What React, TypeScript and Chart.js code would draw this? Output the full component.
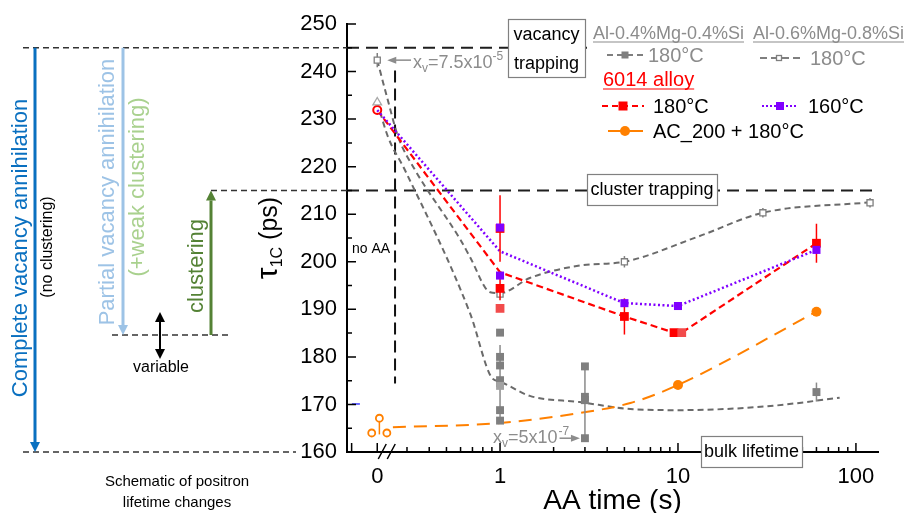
import React, { useEffect, useRef } from 'react';
import { Chart, registerables } from 'chart.js';

Chart.register(...registerables);

const FONT = '"Liberation Sans", Arial, Helvetica, sans-serif';

// Broken time axis: t = 0 sits left of the break, everything else is log10(t)
const ZERO_POS = -0.69;
const X_MIN = -0.86;
const X_MAX = 2.124;
const xTickPos = [ZERO_POS, 0, 1, 2];
const xTickLabels = ['0', '1', '10', '100'];
const xMinorTimes = [0.3, 0.4, 0.5, 0.6, 0.7, 0.8, 0.9, 2, 3, 4, 5, 6, 7, 8, 9, 20, 30, 40, 50, 60, 70, 80, 90];
const xEdgeTickPos = [-0.834, ZERO_POS];
const Y_MIN = 160;
const Y_MAX = 250;

const xPos = (t: number) => (t === 0 ? ZERO_POS : Math.log10(t));

// Reference lifetimes (ps)
const VACANCY_LEVEL = 245;
const CLUSTER_LEVEL = 215;
const PARTIAL_LEVEL = 184.6;
const BULK_LEVEL = 160;

// "no AA" separator
const SEP_POS = -0.59;
const SEP_TOP = 240.2;
const SEP_BOTTOM = 174.4;

// Al-0.4%Mg-0.4%Si, 180 °C: single measurements
const al04Times = [1, 1, 1, 1, 1, 1, 1, 1, 3, 3, 3, 3, 60];
const al04Tau = [185.1, 180.0, 178.2, 175.1, 174.5, 173.9, 168.8, 166.6, 178.0, 171.6, 170.9, 162.9, 172.6];
const al04Err = [0, 0, 0, 0, 8.0, 0, 0, 0, 0, 0, 7.5, 0, 2.0];
const al04Light = [false, false, false, false, false, true, false, false, false, false, false, false, false];
const al04StartTau = 233.5;

// Al-0.4%Mg-0.4%Si fit curve
const al04FitTimes = [0, 0.235, 0.292, 0.678, 0.9, 1, 1.47, 2.8, 5.6, 10.3, 31.5, 81];
const al04FitTau = [233.5, 226.2, 219.3, 189.2, 175.6, 174.8, 171.8, 170.5, 169.0, 168.8, 169.6, 171.4];

// Al-0.6%Mg-0.8%Si, 180 °C
const al06Times = [0, 1, 5, 30, 120];
const al06Tau = [242.4, 193.2, 200.0, 210.3, 212.4];
const al06Err = [1.5, 0, 1.2, 1.0, 1.0];
const al06FitTimes = [0, 0.234, 0.268, 0.333, 0.6, 0.678, 0.88, 1, 1.47, 2.8, 5, 13, 30, 120];
const al06FitTau = [242.4, 234.0, 226.2, 219.3, 204.6, 201.0, 193.6, 193.4, 196.6, 199.2, 200.0, 205.3, 210.3, 212.5];

// 6014 alloy, 180 °C
const redTimes = [1, 1, 1, 5, 9.5, 10.5, 60];
const redTau = [207.0, 194.4, 190.2, 188.5, 185.1, 185.1, 203.9];
const redErr = [7.0, 2.5, 0, 3.8, 0, 0, 4.1];
const redLight = [false, false, true, false, false, true, false];
const redLineTimes = [0, 1, 5, 9.5, 10.5, 60];
const redLineTau = [231.9, 197.8, 188.5, 185.1, 185.1, 203.9];

// 6014 alloy, 160 °C
const purpleTimes = [1, 1, 5, 10, 60];
const purpleTau = [207.2, 197.1, 191.3, 190.7, 202.5];
const purpleLineTimes = [0, 1, 5, 10, 60];
const purpleLineTau = [231.9, 202.2, 191.3, 190.7, 202.5];

// 6014 alloy, AC_200 + 180 °C
const orangeZeroTau = [164.0, 167.1, 164.0];
const orangeZeroShift = [-0.031, 0.012, 0.054];
const orangeZeroErrLow = [0, 3.4, 0];
const orangeTimes = [10, 60];
const orangeTau = [174.1, 189.5];
const orangeFitTimes = [0.25, 1, 2.8, 5.4, 10, 60];
const orangeFitTau = [165.2, 166.1, 168.2, 170.3, 174.1, 189.5];

// stray mark next to the y axis
const strayPos = -0.81;
const strayTau = 170.1;

const GRAY = '#7f7f7f';
const GRAY_TEXT = '#8c8c8c';
const RED = '#ff0000';
const RED_LIGHT = '#f24b4b';
const PURPLE = '#8000ff';
const ORANGE = '#ff8000';

const pts = (times: number[], vals: number[]) => times.map((t, i) => ({ x: xPos(t), y: vals[i] }));

function dash(ctx: any, x1: number, y1: number, x2: number, y2: number, color: string, width: number, pattern: number[]) {
  ctx.save();
  ctx.strokeStyle = color;
  ctx.lineWidth = width;
  ctx.setLineDash(pattern);
  ctx.beginPath();
  ctx.moveTo(x1, y1);
  ctx.lineTo(x2, y2);
  ctx.stroke();
  ctx.restore();
}

function text(ctx: any, s: string, x: number, y: number, size: number, color: string, align = 'center', baseline = 'middle', rot = 0) {
  ctx.save();
  ctx.translate(x, y);
  if (rot) ctx.rotate(rot);
  ctx.font = `${size}px ${FONT}`;
  ctx.fillStyle = color;
  ctx.textAlign = align;
  ctx.textBaseline = baseline;
  ctx.fillText(s, 0, 0);
  ctx.restore();
}

function richText(ctx: any, x: number, y: number, parts: { s: string; size: number; dy: number }[], color: string) {
  ctx.save();
  ctx.fillStyle = color;
  ctx.textAlign = 'left';
  ctx.textBaseline = 'alphabetic';
  let cx = x;
  for (const p of parts) {
    ctx.font = `${p.size}px ${FONT}`;
    ctx.fillText(p.s, cx, y + p.dy);
    cx += ctx.measureText(p.s).width;
  }
  ctx.restore();
  return cx;
}

function vArrow(ctx: any, x: number, y0: number, y1: number, color: string, width: number, both = false) {
  const dir = y1 > y0 ? 1 : -1;
  const len = 10;
  const half = 5;
  ctx.save();
  ctx.strokeStyle = color;
  ctx.fillStyle = color;
  ctx.lineWidth = width;
  ctx.beginPath();
  ctx.moveTo(x, both ? y0 + dir * len : y0);
  ctx.lineTo(x, y1 - dir * len);
  ctx.stroke();
  const head = (hy: number, d: number) => {
    ctx.beginPath();
    ctx.moveTo(x, hy);
    ctx.lineTo(x - half, hy - d * len);
    ctx.lineTo(x + half, hy - d * len);
    ctx.closePath();
    ctx.fill();
  };
  head(y1, dir);
  if (both) head(y0, -dir);
  ctx.restore();
}

function hArrow(ctx: any, x0: number, x1: number, y: number, color: string) {
  const dir = x1 > x0 ? 1 : -1;
  ctx.save();
  ctx.strokeStyle = color;
  ctx.fillStyle = color;
  ctx.lineWidth = 1.5;
  ctx.beginPath();
  ctx.moveTo(x0, y);
  ctx.lineTo(x1 - dir * 8, y);
  ctx.stroke();
  ctx.beginPath();
  ctx.moveTo(x1, y);
  ctx.lineTo(x1 - dir * 9, y - 3.5);
  ctx.lineTo(x1 - dir * 9, y + 3.5);
  ctx.closePath();
  ctx.fill();
  ctx.restore();
}

function labelBox(ctx: any, x1: number, y1: number, x2: number, y2: number, lines: string[], size: number, shift = 1) {
  ctx.save();
  ctx.fillStyle = '#ffffff';
  ctx.fillRect(x1, y1, x2 - x1, y2 - y1);
  ctx.strokeStyle = '#808080';
  ctx.lineWidth = 1.2;
  ctx.strokeRect(x1 + 0.5, y1 + 0.5, x2 - x1, y2 - y1);
  ctx.restore();
  const cx = (x1 + x2) / 2;
  const step = (y2 - y1) / lines.length;
  lines.forEach((l, i) => text(ctx, l, cx, y1 + step * (i + 0.5) + shift, size, '#000'));
}

function square(ctx: any, x: number, y: number, side: number, fill: string | null, stroke: string | null) {
  ctx.save();
  if (fill) {
    ctx.fillStyle = fill;
    ctx.fillRect(x - side / 2, y - side / 2, side, side);
  }
  if (stroke) {
    ctx.strokeStyle = stroke;
    ctx.lineWidth = 1.3;
    ctx.strokeRect(x - side / 2, y - side / 2, side, side);
  }
  ctx.restore();
}

function underlined(ctx: any, s: string, x: number, y: number, size: number, color: string) {
  ctx.save();
  ctx.font = `${size}px ${FONT}`;
  const w = ctx.measureText(s).width;
  ctx.restore();
  text(ctx, s, x, y, size, color, 'left', 'alphabetic');
  ctx.save();
  ctx.strokeStyle = color;
  ctx.lineWidth = 1.2;
  ctx.beginPath();
  ctx.moveTo(x, y + 3);
  ctx.lineTo(x + w, y + 3);
  ctx.stroke();
  ctx.restore();
}

const decor = {
  id: 'decor',
  beforeDatasetsDraw(chart: any) {
    const ctx = chart.ctx;
    const { left, right } = chart.chartArea;
    const X = (p: number) => chart.scales.x.getPixelForValue(p);
    const Y = (v: number) => chart.scales.y.getPixelForValue(v);
    dash(ctx, left, Y(VACANCY_LEVEL), 594, Y(VACANCY_LEVEL), '#1e1e1e', 2, [12, 7]);
    dash(ctx, left, Y(CLUSTER_LEVEL), right, Y(CLUSTER_LEVEL), '#1e1e1e', 2, [12, 7]);
    dash(ctx, X(SEP_POS), Y(SEP_TOP), X(SEP_POS), Y(SEP_BOTTOM), '#111', 2, [12, 6]);
  },
  beforeDatasetDraw(chart: any, args: any) {
    const ds = chart.data.datasets[args.index];
    if (!ds.errors && !ds.errorsLow) return;
    const ctx = chart.ctx;
    const Y = (v: number) => chart.scales.y.getPixelForValue(v);
    ctx.save();
    ctx.strokeStyle = ds.errorColor;
    ctx.lineWidth = 1.5;
    args.meta.data.forEach((el: any, i: number) => {
      const lo = ds.errors ? ds.errors[i] : ds.errorsLow[i];
      const hi = ds.errors ? ds.errors[i] : 0;
      if (!lo && !hi) return;
      const v = ds.data[i].y;
      ctx.beginPath();
      ctx.moveTo(el.x, Y(v - lo));
      ctx.lineTo(el.x, Y(v + hi));
      ctx.stroke();
    });
    ctx.restore();
  },
  afterDraw(chart: any) {
    const ctx = chart.ctx;
    const { left, right, bottom } = chart.chartArea;
    const X = (p: number) => chart.scales.x.getPixelForValue(p);
    const Y = (v: number) => chart.scales.y.getPixelForValue(v);

    // inward tick marks
    ctx.save();
    ctx.strokeStyle = '#000';
    ctx.lineWidth = 1.5;
    ctx.beginPath();
    for (let v = Y_MIN; v <= Y_MAX; v += 5) {
      const len = v % 10 === 0 ? 9 : 5;
      ctx.moveTo(left, Y(v));
      ctx.lineTo(left + len, Y(v));
    }
    for (const p of [...xEdgeTickPos, 0, 1, 2]) {
      ctx.moveTo(X(p), bottom);
      ctx.lineTo(X(p), bottom - 9);
    }
    for (const t of xMinorTimes) {
      ctx.moveTo(X(Math.log10(t)), bottom);
      ctx.lineTo(X(Math.log10(t)), bottom - 5);
    }
    ctx.stroke();
    // axis break
    const bx = X(ZERO_POS) + 5;
    ctx.lineWidth = 1.5;
    ctx.beginPath();
    for (const off of [0, 9]) {
      ctx.moveTo(bx + off - 4, bottom + 7);
      ctx.lineTo(bx + off + 4, bottom - 8);
    }
    ctx.stroke();
    ctx.restore();

    // schematic of lifetime changes
    const yVac = Y(VACANCY_LEVEL);
    const yClu = Y(CLUSTER_LEVEL);
    const yPar = Y(PARTIAL_LEVEL);
    const yBulk = Y(BULK_LEVEL);
    dash(ctx, 23, yVac, left, yVac, '#333', 1.5, [6, 4]);
    dash(ctx, 211, yClu, left, yClu, '#333', 1.5, [6, 4]);
    dash(ctx, 112, yPar, 228, yPar, '#333', 1.5, [6, 4]);
    dash(ctx, 23, yBulk, 296, yBulk, '#333', 1.5, [6, 4]);
    vArrow(ctx, 35, yVac, yBulk, '#0a70c0', 3);
    vArrow(ctx, 123, yVac, yPar, '#9dc3e6', 3);
    vArrow(ctx, 211, yPar, yClu, '#548235', 3);
    vArrow(ctx, 160, 312, 359, '#000', 2, true);
    const R = -Math.PI / 2;
    text(ctx, 'Complete vacancy annihilation', 21, 248, 22, '#0a70c0', 'center', 'middle', R);
    text(ctx, '(no clustering)', 48, 247, 16, '#000', 'center', 'middle', R);
    text(ctx, 'Partial vacancy annihilation', 108, 192, 22, '#9dc3e6', 'center', 'middle', R);
    text(ctx, '(+weak clustering)', 138, 187, 22, '#a9d18e', 'center', 'middle', R);
    text(ctx, 'clustering', 197, 266, 22, '#548235', 'center', 'middle', R);
    text(ctx, 'variable', 161, 368, 16, '#000');
    text(ctx, 'Schematic of positron', 177, 482, 15, '#000');
    text(ctx, 'lifetime changes', 177, 503, 15, '#000');

    // boxed labels
    labelBox(ctx, 508, 19, 585, 77, ['vacancy', 'trapping'], 18, 2);
    labelBox(ctx, 587, 174, 717, 205, ['cluster trapping'], 18);
    labelBox(ctx, 701, 436, 802, 467, ['bulk lifetime'], 18);

    // annotations
    text(ctx, 'no AA', 371, 249, 14, '#000');
    hArrow(ctx, 411, X(ZERO_POS) + 10, Y(al06Tau[0]), GRAY_TEXT);
    richText(ctx, 413, 68, [
      { s: 'x', size: 18, dy: 0 },
      { s: 'v', size: 12, dy: 4 },
      { s: '=7.5x10', size: 18, dy: 0 },
      { s: '-5', size: 12, dy: -8 },
    ], GRAY_TEXT);
    const endX = richText(ctx, 493, 443, [
      { s: 'x', size: 18, dy: 0 },
      { s: 'v', size: 12, dy: 4 },
      { s: '=5x10', size: 18, dy: 0 },
    ], GRAY_TEXT);
    richText(ctx, endX + 1, 435, [{ s: '-7', size: 12, dy: 0 }], GRAY_TEXT);
    hArrow(ctx, endX + 2, X(Math.log10(3)) - 5, Y(162.9), GRAY_TEXT);

    // legend
    underlined(ctx, 'Al-0.4%Mg-0.4%Si', 593, 39, 18, GRAY_TEXT);
    underlined(ctx, 'Al-0.6%Mg-0.8%Si', 753, 39, 18, GRAY_TEXT);
    dash(ctx, 607, 55, 643, 55, GRAY, 2, [6, 4]);
    square(ctx, 625, 55, 7, GRAY, null);
    text(ctx, '180°C', 648, 62, 20, GRAY_TEXT, 'left', 'alphabetic');
    dash(ctx, 760, 58, 800, 58, GRAY, 2, [7, 4]);
    square(ctx, 779, 58, 5, '#fff', GRAY);
    text(ctx, '180°C', 810, 65, 20, GRAY_TEXT, 'left', 'alphabetic');
    underlined(ctx, '6014 alloy', 603, 86, 20, RED);
    dash(ctx, 602, 106, 644, 106, RED, 2, [6, 4]);
    square(ctx, 623, 106, 9, RED, null);
    text(ctx, '180°C', 653, 113, 20, '#000', 'left', 'alphabetic');
    dash(ctx, 762, 106, 798, 106, PURPLE, 2, [2, 2]);
    square(ctx, 780, 106, 8, PURPLE, null);
    text(ctx, '160°C', 808, 113, 20, '#000', 'left', 'alphabetic');
    ctx.save();
    ctx.strokeStyle = ORANGE;
    ctx.lineWidth = 2;
    ctx.beginPath();
    ctx.moveTo(608, 131);
    ctx.lineTo(643, 131);
    ctx.stroke();
    ctx.fillStyle = ORANGE;
    ctx.beginPath();
    ctx.arc(625, 131, 5, 0, Math.PI * 2);
    ctx.fill();
    ctx.restore();
    text(ctx, 'AC_200 + 180°C', 653, 138, 20, '#000', 'left', 'alphabetic');

    // axis titles
    ctx.save();
    ctx.translate(277, 238);
    ctx.rotate(-Math.PI / 2);
    ctx.fillStyle = '#000';
    ctx.textBaseline = 'alphabetic';
    const parts = [
      { s: 'τ', size: 30, dy: 0 },
      { s: '1C', size: 16, dy: 5 },
      { s: ' (ps)', size: 25, dy: 0 },
    ];
    let total = 0;
    for (const p of parts) {
      ctx.font = `${p.size}px ${FONT}`;
      total += ctx.measureText(p.s).width;
    }
    let cx = -total / 2;
    for (const p of parts) {
      ctx.font = `${p.size}px ${FONT}`;
      ctx.fillText(p.s, cx, p.dy);
      cx += ctx.measureText(p.s).width;
    }
    ctx.restore();
    text(ctx, 'AA time (s)', (left + right) / 2, 509, 28, '#000', 'center', 'alphabetic');
  },
};

export default function App() {
  const ref = useRef<HTMLCanvasElement>(null);

  useEffect(() => {
    document.body.style.margin = '0';
    const canvas = ref.current;
    if (!canvas) return;

    const datasets: any[] = [
      {
        data: pts(al06FitTimes, al06FitTau),
        borderColor: '#6a6a6a', borderWidth: 2, borderDash: [6, 4],
        pointRadius: 0, cubicInterpolationMode: 'monotone', order: 30,
      },
      {
        data: pts(al04FitTimes, al04FitTau),
        borderColor: '#6a6a6a', borderWidth: 2, borderDash: [6, 4],
        pointRadius: 0, cubicInterpolationMode: 'monotone', order: 30,
      },
      {
        data: pts(orangeFitTimes, orangeFitTau),
        borderColor: ORANGE, borderWidth: 2, borderDash: [13, 8],
        pointRadius: 0, cubicInterpolationMode: 'monotone', order: 29,
      },
      {
        data: pts(redLineTimes, redLineTau),
        borderColor: RED, borderWidth: 2.2, borderDash: [7, 4], tension: 0,
        pointRadius: redLineTimes.map((t) => (t === 0 ? 4 : 0)),
        pointBackgroundColor: '#fff', pointBorderColor: RED, pointBorderWidth: 2, order: 25,
      },
      {
        data: pts(purpleLineTimes, purpleLineTau),
        borderColor: PURPLE, borderWidth: 2.5, borderDash: [2, 2.5], tension: 0,
        pointRadius: 0, order: 24,
      },
      {
        data: [{ x: xPos(0), y: al04StartTau }],
        showLine: false, pointStyle: 'triangle', pointRadius: 5,
        pointBackgroundColor: '#fff', pointBorderColor: '#a8a8a8', pointBorderWidth: 1.3, order: 12,
      },
      {
        data: pts(al04Times, al04Tau),
        showLine: false, pointStyle: 'rect', pointRadius: 5.6, pointBorderWidth: 0,
        pointBackgroundColor: al04Light.map((l) => (l ? '#a3a3a3' : GRAY)),
        pointBorderColor: al04Light.map((l) => (l ? '#a3a3a3' : GRAY)),
        errors: al04Err, errorColor: '#8a8a8a', order: 10,
      },
      {
        data: pts(al06Times, al06Tau),
        showLine: false, pointStyle: 'rect', pointRadius: 4.3, pointBorderWidth: 1.3,
        pointBackgroundColor: '#fff', pointBorderColor: GRAY,
        errors: al06Err, errorColor: GRAY, order: 9,
      },
      {
        data: orangeZeroTau.map((v, i) => ({ x: ZERO_POS + orangeZeroShift[i], y: v })),
        showLine: false, pointStyle: 'circle', pointRadius: 3.5, pointBorderWidth: 1.8,
        pointBackgroundColor: '#fff', pointBorderColor: ORANGE,
        errorsLow: orangeZeroErrLow, errorColor: ORANGE, order: 8,
      },
      {
        data: pts(orangeTimes, orangeTau),
        showLine: false, pointStyle: 'circle', pointRadius: 5, pointBorderWidth: 0,
        pointBackgroundColor: ORANGE, pointBorderColor: ORANGE, order: 7,
      },
      {
        data: pts(redTimes, redTau),
        showLine: false, pointStyle: 'rect', pointRadius: 6.2, pointBorderWidth: 0,
        pointBackgroundColor: redLight.map((l) => (l ? RED_LIGHT : RED)),
        pointBorderColor: redLight.map((l) => (l ? RED_LIGHT : RED)),
        errors: redErr, errorColor: RED, order: 6,
      },
      {
        data: pts(purpleTimes, purpleTau),
        showLine: false, pointStyle: 'rect', pointRadius: 5.7, pointBorderWidth: 0,
        pointBackgroundColor: PURPLE, pointBorderColor: PURPLE, order: 5,
      },
      {
        data: [{ x: strayPos, y: strayTau }],
        showLine: false, pointStyle: 'line', pointRadius: 4, pointBorderWidth: 1.5,
        pointBorderColor: '#3b3bff', order: 4,
      },
    ];

    const chart = new Chart(canvas, {
      type: 'line',
      data: { datasets },
      options: {
        responsive: false,
        animation: false,
        devicePixelRatio: 1,
        events: [],
        layout: { padding: { left: 287, right: 28, top: 24, bottom: 0 } },
        plugins: { legend: { display: false }, tooltip: { enabled: false }, title: { display: false } },
        scales: {
          x: {
            type: 'linear',
            min: X_MIN,
            max: X_MAX,
            afterBuildTicks: (s: any) => {
              s.ticks = xTickPos.map((v) => ({ value: v }));
            },
            afterFit: (s: any) => {
              s.height = 61;
            },
            ticks: {
              callback: (_v: any, i: number) => xTickLabels[i],
              font: { size: 22, family: FONT },
              color: '#000',
              padding: 12,
              maxRotation: 0,
              autoSkip: false,
            },
            grid: { display: false, drawTicks: false },
            border: { display: true, color: '#000', width: 2 },
          },
          y: {
            type: 'linear',
            min: Y_MIN,
            max: Y_MAX,
            afterFit: (s: any) => {
              s.width = 60;
            },
            ticks: {
              stepSize: 10,
              font: { size: 22, family: FONT },
              color: '#000',
              padding: 10,
            },
            grid: { display: false, drawTicks: false },
            border: { display: true, color: '#000', width: 2 },
          },
        },
      } as any,
      plugins: [decor as any],
    });

    return () => chart.destroy();
  }, []);

  return (
    <canvas
      ref={ref}
      width={906}
      height={513}
      style={{ position: 'absolute', left: 0, top: 0, width: 906, height: 513 }}
    />
  );
}
